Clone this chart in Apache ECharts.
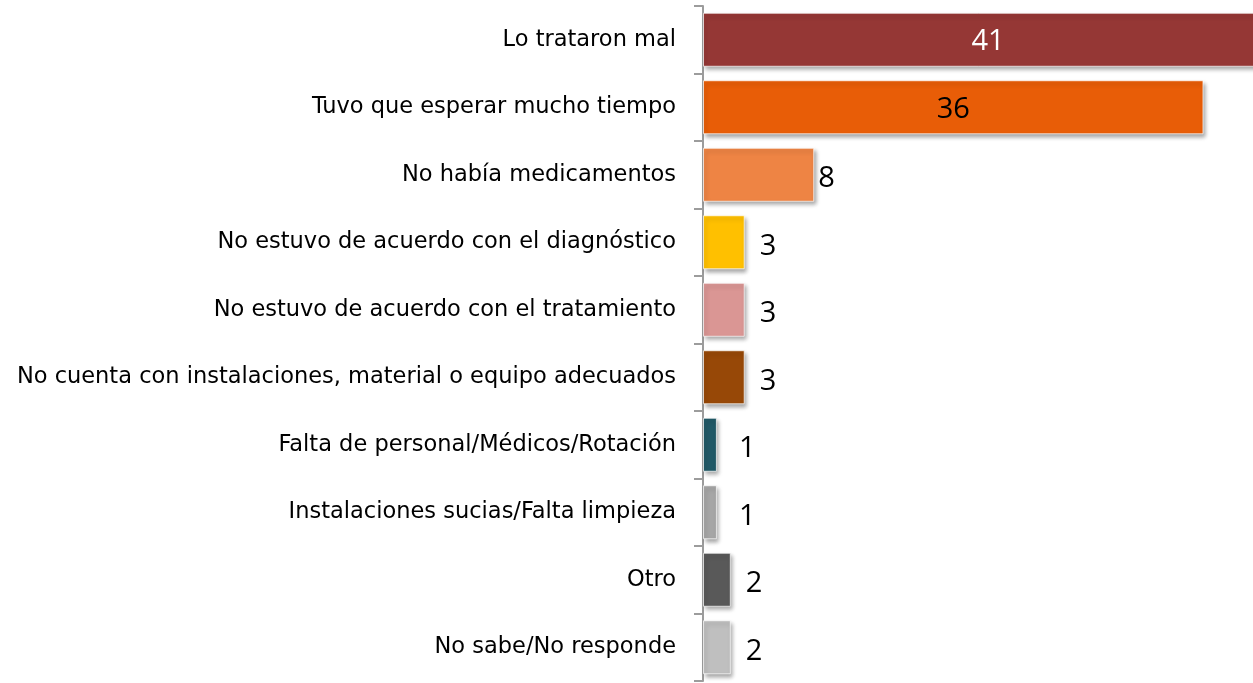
<!DOCTYPE html>
<html>
<head>
<meta charset="utf-8">
<script src="https://cdn.jsdelivr.net/npm/echarts@6/dist/echarts.min.js"></script>
<style>
  html, body { margin: 0; padding: 0; background: #fff; }
  #chart { width: 1253px; height: 683px; }
</style>
</head>
<body>
<div id="chart"></div>
<script>
// categorías, de arriba hacia abajo
const categories = [
  'Lo trataron mal',
  'Tuvo que esperar mucho tiempo',
  'No había medicamentos',
  'No estuvo de acuerdo con el diagnóstico',
  'No estuvo de acuerdo con el tratamiento',
  'No cuenta con instalaciones, material o equipo adecuados',
  'Falta de personal/Médicos/Rotación',
  'Instalaciones sucias/Falta limpieza',
  'Otro',
  'No sabe/No responde'
];
const values = [41, 36, 8, 3, 3, 3, 1, 1, 2, 2];
const barColors = ['#953735', '#E85D07', '#EE8444', '#FFC000', '#DA9694',
                   '#974807', '#215967', '#A6A6A6', '#595959', '#BFBFBF'];

const chart = echarts.init(document.getElementById('chart'));

const data = values.map((v, i) => {
  const inside = i < 2;
  let dist = 15;
  if (i === 2) dist = 4;
  if (v === 1) dist = 22;
  return {
    value: v,
    itemStyle: { color: barColors[i] },
    label: {
      position: inside ? 'inside' : 'right',
      distance: dist,
      offset: inside ? [0, 2] : [0, 4],
      color: i === 0 ? '#fff' : '#000'
    }
  };
});

chart.setOption({
  animation: false,
  grid: { left: 703, width: 570, top: 6, bottom: 2, outerBoundsMode: 'none', containLabel: false },
  xAxis: {
    type: 'value',
    min: 0,
    max: 41,
    show: false
  },
  yAxis: {
    type: 'category',
    data: categories,
    inverse: true,
    axisLine: { show: true, lineStyle: { color: '#9c9c9c', width: 2 } },
    axisTick: { show: true, length: 9, lineStyle: { color: '#9c9c9c', width: 2 } },
    axisLabel: {
      margin: 27,
      fontFamily: 'DejaVu Sans',
      fontSize: 22.5,
      color: '#000',
      padding: [4, 0, 0, 0]
    },
    splitLine: { show: false }
  },
  series: [{
    type: 'bar',
    data: data,
    barCategoryGap: '20%',
    clip: false,
    itemStyle: {
      borderColor: 'rgba(255,255,255,0.7)',
      borderWidth: 1,
      shadowBlur: 4,
      shadowOffsetX: 2,
      shadowOffsetY: 3,
      shadowColor: 'rgba(0,0,0,0.35)'
    },
    label: {
      show: true,
      fontFamily: 'Open Sans',
      fontSize: 29
    }
  }]
});
</script>
</body>
</html>
